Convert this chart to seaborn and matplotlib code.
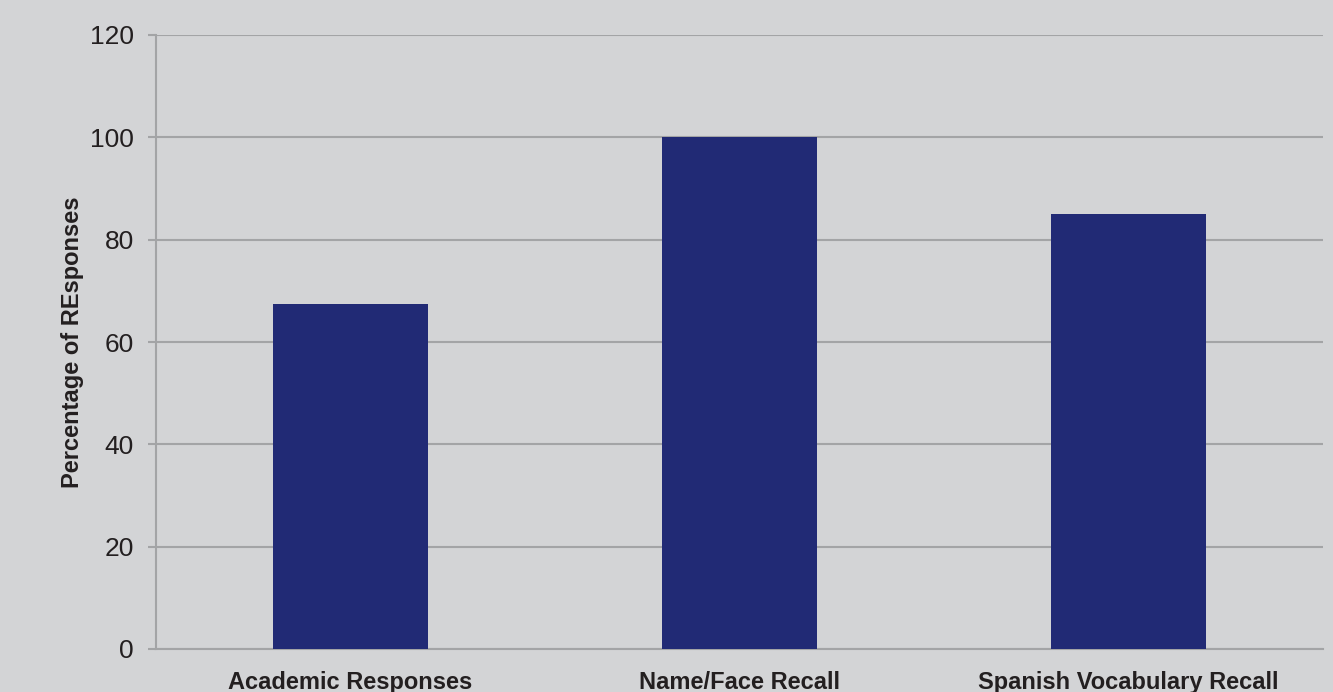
import matplotlib
matplotlib.use("Agg")
import matplotlib.pyplot as plt
import seaborn as sns

categories = ["Academic Responses", "Name/Face Recall", "Spanish Vocabulary Recall"]
values = [67.5, 100, 85]
yticks = [0, 20, 40, 60, 80, 100, 120]
ylabel = "Percentage of REsponses"

bg = "#d3d4d6"
bar_color = "#212a75"
grid_color = "#a3a4a6"
text_color = "#231f20"

sns.set_theme(style="white")
plt.rcParams["font.family"] = ["Liberation Sans", "DejaVu Sans"]

fig = plt.figure(figsize=(13.33, 6.92), dpi=100, facecolor=bg)
W, H = 1333, 692
ax = fig.add_axes([156 / W, (H - 649) / H, 1167 / W, 614 / H])
ax.set_facecolor(bg)

sns.barplot(x=categories, y=values, color=bar_color, saturation=1, width=0.4,
            edgecolor=bar_color, linewidth=0, ax=ax, zorder=3)

ax.set_xlim(-0.5, 2.5)
ax.set_ylim(0, 120)
ax.set_yticks(yticks)
ax.set_yticklabels([str(v) for v in yticks])
ax.yaxis.grid(True, color=grid_color, linewidth=1.5, zorder=0)
ax.set_axisbelow(True)

for s in ["top", "right"]:
    ax.spines[s].set_visible(False)
for s in ["left", "bottom"]:
    ax.spines[s].set_color(grid_color)
    ax.spines[s].set_linewidth(1.5)
    ax.spines[s].set_zorder(1)

ax.tick_params(axis="y", length=6, width=1.5, color=grid_color, pad=10, labelsize=19, labelcolor=text_color, left=True)
ax.tick_params(axis="x", length=0, pad=16, labelsize=17, labelcolor=text_color)
for lab in ax.get_xticklabels():
    lab.set_fontweight("semibold")

ax.set_xlabel("")
ax.set_ylabel(ylabel, fontsize=17, fontweight="bold", color=text_color, labelpad=4)

fig.savefig("out.png", dpi=100, facecolor=bg)
